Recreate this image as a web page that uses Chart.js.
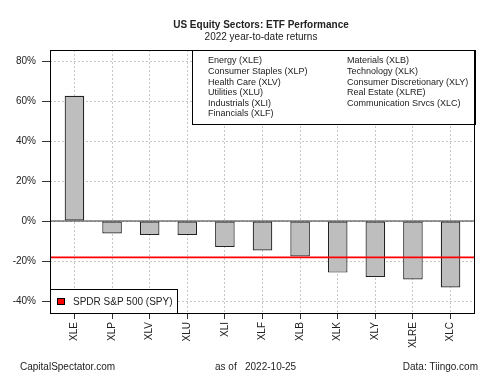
<!DOCTYPE html>
<html>
<head>
<meta charset="utf-8">
<script src="https://cdn.jsdelivr.net/npm/chart.js@4/dist/chart.umd.min.js"></script>
<style>
html,body{margin:0;padding:0;background:#fff;}
#wrap{width:500px;height:375px;position:relative;}
</style>
</head>
<body>
<div id="wrap"><canvas id="c" width="500" height="375"></canvas></div>
<script>
const categories = ['XLE','XLP','XLV','XLU','XLI','XLF','XLB','XLK','XLY','XLRE','XLC'];
const returns = [62.6, -6.2, -7.0, -7.0, -13.0, -14.7, -17.7, -25.8, -28.0, -29.2, -33.2];
const spyReturn = -18.2;
const yTickValues = [-40, -20, 0, 20, 40, 60, 80];
const legendLeft = ['Energy (XLE)','Consumer Staples (XLP)','Health Care (XLV)','Utilities (XLU)','Industrials (XLI)','Financials (XLF)'];
const legendRight = ['Materials (XLB)','Technology (XLK)','Consumer Discretionary (XLY)','Real Estate (XLRE)','Communication Srvcs (XLC)'];
const titleText = 'US Equity Sectors: ETF Performance';
const subtitleText = '2022 year-to-date returns';
const spyLabel = 'SPDR S&P 500 (SPY)';
const footerLeft = 'CapitalSpectator.com';
const footerMidA = 'as of';
const footerMidB = '2022-10-25';
const footerRight = 'Data: Tiingo.com';

const FONT = '"Liberation Sans", Arial, sans-serif';
Chart.defaults.font.family = FONT;
Chart.defaults.color = '#222';

const xMin = -0.65, xMax = categories.length - 1 + 0.65;

const decor = {
  id: 'decor',
  afterDatasetsDraw(chart) {
    const ctx = chart.ctx;
    const a = chart.chartArea;
    ctx.save();
    // top-right legend box
    const bx = 192, by = a.top, bw = a.right - 192, bh = 74;
    ctx.fillStyle = '#fff';
    ctx.fillRect(bx, by, bw, bh);
    ctx.strokeStyle = '#000';
    ctx.lineWidth = 1;
    ctx.strokeRect(bx + 0.5, by + 0.5, bw, bh);
    ctx.fillStyle = '#222';
    ctx.font = '9px ' + FONT;
    ctx.textBaseline = 'middle';
    ctx.textAlign = 'left';
    legendLeft.forEach((t, i) => ctx.fillText(t, 208, 61 + i * 10.6));
    legendRight.forEach((t, i) => ctx.fillText(t, 347, 61 + i * 10.6));
    // bottom-left SPY legend
    const lx = a.left, ly = 289, lw = 177 - a.left, lh = a.bottom - 289;
    ctx.fillStyle = '#fff';
    ctx.fillRect(lx, ly, lw, lh);
    ctx.strokeStyle = '#000';
    ctx.strokeRect(lx + 0.5, ly + 0.5, lw, lh);
    ctx.fillStyle = '#ff0000';
    ctx.fillRect(57, 298, 8, 7);
    ctx.strokeStyle = '#000';
    ctx.strokeRect(57.5, 298.5, 7, 6);
    ctx.fillStyle = '#222';
    ctx.font = '10px ' + FONT;
    ctx.fillText(spyLabel, 73, 302);
    // frame
    ctx.strokeStyle = '#000';
    ctx.lineWidth = 1;
    ctx.strokeRect(Math.round(a.left) + 0.5, Math.round(a.top) + 0.5, Math.round(a.right - a.left) - 1, Math.round(a.bottom - a.top));
    ctx.restore();
  },
  afterDraw(chart) {
    const ctx = chart.ctx;
    ctx.save();
    ctx.fillStyle = '#222';
    ctx.textBaseline = 'middle';
    ctx.textAlign = 'center';
    ctx.font = 'bold 10px ' + FONT;
    ctx.fillText(titleText, 261, 25.5);
    ctx.font = '10px ' + FONT;
    ctx.fillText(subtitleText, 261, 37);
    ctx.textAlign = 'left';
    ctx.fillText(footerLeft, 20, 367);
    ctx.fillText(footerMidA, 215, 367);
    ctx.fillText(footerMidB, 245, 367);
    ctx.textAlign = 'right';
    ctx.fillText(footerRight, 478, 367);
    ctx.restore();
  }
};

new Chart(document.getElementById('c'), {
  type: 'bar',
  data: {
    datasets: [
      {
        type: 'line',
        data: [{x: xMin, y: spyReturn}, {x: xMax, y: spyReturn}],
        borderColor: '#ff0000',
        borderWidth: 1.6,
        pointRadius: 0,
        order: 0
      },
      {
        type: 'line',
        data: [{x: xMin, y: 0}, {x: xMax, y: 0}],
        borderColor: '#333',
        borderWidth: 1,
        pointRadius: 0,
        order: 2
      },
      {
        type: 'bar',
        data: categories.map((c, i) => ({x: i, y: returns[i]})),
        backgroundColor: '#bebebe',
        borderColor: '#222',
        borderWidth: 1.2,
        borderSkipped: false,
        barPercentage: 0.52,
        categoryPercentage: 1,
        order: 1
      }
    ]
  },
  options: {
    responsive: false,
    animation: false,
    devicePixelRatio: 1,
    layout: {padding: {top: 50, right: 25, left: 0, bottom: 0}},
    plugins: {legend: {display: false}, tooltip: {enabled: false}, title: {display: false}},
    scales: {
      x: {
        type: 'linear',
        min: xMin,
        max: xMax,
        offset: false,
        afterBuildTicks: s => { s.ticks = categories.map((c, i) => ({value: i})); },
        afterFit: s => { s.height = 62; },
        ticks: {
          callback: v => categories[v],
          minRotation: 90,
          maxRotation: 90,
          autoSkip: false,
          padding: 3,
          font: {size: 10},
          color: '#222'
        },
        grid: {
          offset: false,
          color: '#c8c8c8',
          tickColor: '#333',
          tickLength: 6,
          tickBorderDash: [],
          lineWidth: 1
        },
        border: {display: false, dash: [2, 2]}
      },
      y: {
        min: -46,
        max: 85.5,
        afterBuildTicks: s => { s.ticks = yTickValues.map(v => ({value: v})); },
        afterFit: s => { s.width = 50; },
        ticks: {
          callback: v => v + '%',
          padding: 6,
          font: {size: 10},
          color: '#222'
        },
        grid: {
          color: '#c8c8c8',
          tickColor: '#333',
          tickLength: 8,
          tickBorderDash: [],
          lineWidth: 1
        },
        border: {display: false, dash: [2, 2]}
      }
    }
  },
  plugins: [decor]
});
</script>
</body>
</html>
